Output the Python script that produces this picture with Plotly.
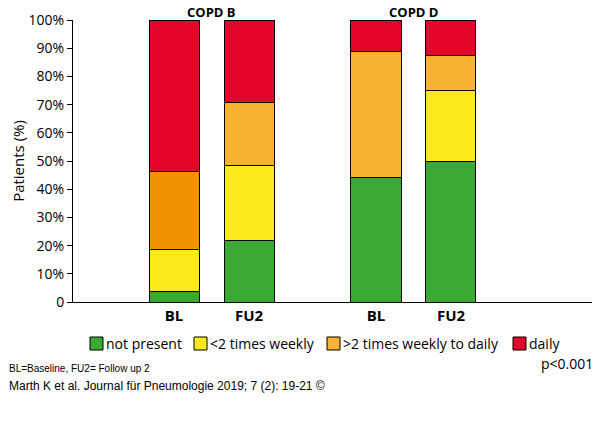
import plotly.graph_objects as go

groups = ["COPD B", "COPD D"]
bar_labels = ["BL", "FU2", "BL", "FU2"]
series_names = ["not present", "<2 times weekly", ">2 times weekly to daily", "daily"]
not_present = [3.8, 21.7, 44.1, 50.0]
lt2_weekly = [14.9, 26.8, 0.0, 25.1]
gt2_weekly_daily = [27.5, 22.4, 44.7, 12.2]
daily = [53.8, 29.1, 11.2, 12.7]
y_ticks = [0, 10, 20, 30, 40, 50, 60, 70, 80, 90, 100]
y_ticklabels = ["0", "10%", "20%", "30%", "40%", "50%", "60%", "70%", "80%", "90%", "100%"]

# layout positions (axis units)
xpos = [1.347, 2.347, 4.04, 5.04]
bar_w = 0.667

green = "#3BAA35"
yellow = "#FBE91B"
orange = "#F9B233"
orange_dark = "#F39200"
red = "#E3052A"

series_vals = [not_present, lt2_weekly, gt2_weekly_daily, daily]
series_cols = [
    [green] * 4,
    [yellow] * 4,
    [orange_dark, orange, orange, orange],
    [red] * 4,
]
legend_cols = [green, yellow, orange, red]

# the page body adds an 8px offset; layout below is in window pixels
OFF = 8
FW, FH = 600 - OFF, 434 - 2 * OFF
L, R, T, B = 73, 594, 20, 302  # plot area in window pixels
W, H = R - L, B - T
def px(x):
    return (x - L) / W
def py(y):
    return (B - y) / H

fig = go.Figure()
for name, vals, cols in zip(series_names, series_vals, series_cols):
    fig.add_trace(go.Bar(
        x=xpos, y=vals, width=bar_w, name=name, showlegend=False,
        marker=dict(color=cols, line=dict(color="#000000", width=1)),
    ))

font = "Open Sans"
fig.update_layout(
    width=FW, height=FH,
    barmode="stack",
    paper_bgcolor="white", plot_bgcolor="white",
    margin=dict(l=L - OFF, r=600 - R, t=T - OFF, b=FH + OFF - B, autoexpand=False),
    font=dict(family=font, size=14, color="#000000"),
    showlegend=False,
    xaxis=dict(
        range=[0, 6.947], tickvals=xpos, ticktext=bar_labels,
        showgrid=False, zeroline=False, showline=True, linecolor="#000000", linewidth=1,
        ticks="", tickfont=dict(family=font, size=15, color="#000000", weight="bold"),
    ),
    yaxis=dict(
        range=[0, 100], tickvals=y_ticks, ticktext=y_ticklabels,
        showgrid=False, zeroline=False, showline=True, linecolor="#000000", linewidth=1,
        ticks="outside", ticklen=5, tickcolor="#000000",
        tickfont=dict(family=font, size=14, color="#000000"),
        title=dict(text="Patients (%)", font=dict(family=font, size=15, color="#000000"), standoff=14),
    ),
)

group_centers = [(xpos[0] + xpos[1]) / 2, (xpos[2] + xpos[3]) / 2]
for g, cx in zip(groups, group_centers):
    fig.add_annotation(x=cx, y=1, xref="x", yref="paper", text=g, showarrow=False,
                       yanchor="bottom", yshift=-3,
                       font=dict(family=font, size=13, color="#000000", weight="bold"))

# manual legend (window pixel positions)
legend_sq_x = [90, 194, 327, 513]
legend_sq = 13
legend_cy = 343.5
for name, col, sx in zip(series_names, legend_cols, legend_sq_x):
    fig.add_shape(type="rect", xref="paper", yref="paper",
                  x0=px(sx), x1=px(sx + legend_sq),
                  y0=py(legend_cy + legend_sq / 2), y1=py(legend_cy - legend_sq / 2),
                  fillcolor=col, line=dict(color="#000000", width=1))
    fig.add_annotation(x=px(sx + legend_sq + 1), y=py(legend_cy), xref="paper", yref="paper",
                       text=name, showarrow=False, xanchor="left", yanchor="middle",
                       font=dict(family=font, size=14, color="#000000"))

fig.add_annotation(x=px(OFF - 1), y=py(368), xref="paper", yref="paper",
                   text="BL=Baseline, FU2= Follow up 2",
                   showarrow=False, xanchor="left", yanchor="middle",
                   font=dict(family="Liberation Sans Narrow, Liberation Sans", size=10, color="#000000"))
fig.add_annotation(x=px(595), y=py(363), xref="paper", yref="paper", text="p<0.001",
                   showarrow=False, xanchor="right", yanchor="middle",
                   font=dict(family=font, size=14, color="#000000"))
fig.add_annotation(x=px(OFF - 1), y=py(386), xref="paper", yref="paper",
                   text="Marth K et al. Journal für Pneumologie 2019; 7 (2): 19-21 ©",
                   showarrow=False, xanchor="left", yanchor="middle",
                   font=dict(family="Liberation Sans", size=12, color="#000000"))

fig.write_html("out.html")
